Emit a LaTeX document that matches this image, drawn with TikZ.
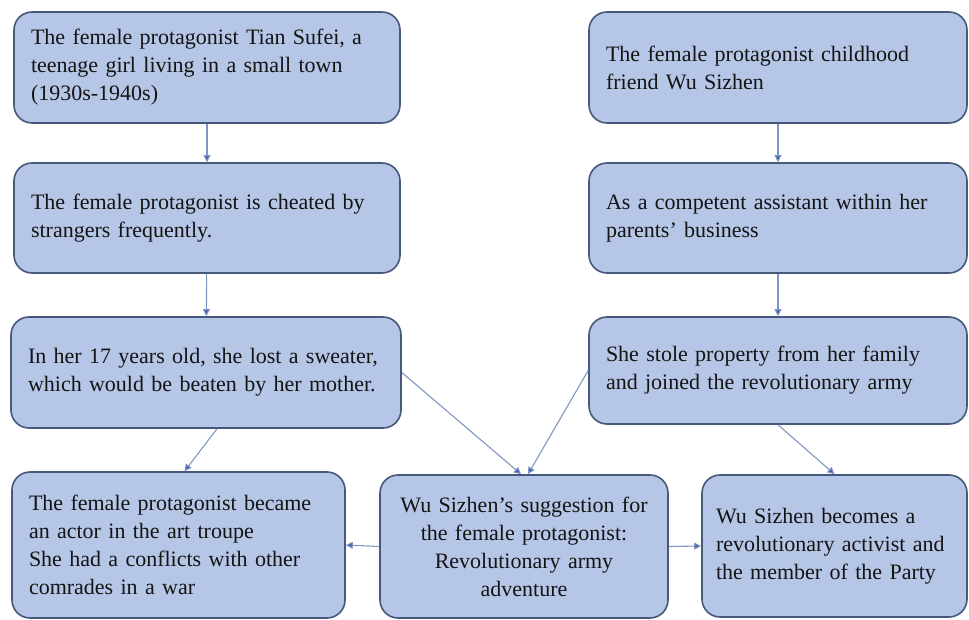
\documentclass[tikz,border=0pt]{standalone}
\usepackage{fontspec}
\setmainfont{Liberation Serif}
\usetikzlibrary{arrows.meta,positioning,calc}
\definecolor{boxfill}{RGB}{182,198,230}
\definecolor{boxline}{RGB}{70,88,124}
\definecolor{linkcol}{RGB}{128,150,194}
\definecolor{tipcol}{RGB}{60,94,176}
\tikzset{
  storybox/.style={draw=boxline, fill=boxfill, line width=1.6pt, rounded corners=18pt,
    align=left, inner xsep=17pt, inner ysep=4pt, text=black!92,
    font=\fontsize{22}{28}\selectfont},
  link/.style={-{Triangle[length=7pt,width=7pt,fill=tipcol]}, line width=1.1pt, draw=linkcol}
}

\begin{document}
\begin{tikzpicture}[x=1pt, y=-1pt]
  \useasboundingbox (0,0) rectangle (969,620);

  \node[storybox, text width=352pt, minimum height=111pt] (tian) at (207,67.5)
    {The female protagonist Tian Sufei, a\\teenage girl living in a small town\\(1930s-1940s)};
  \node[storybox, text width=352pt, minimum height=110pt] (cheat) at (207,218)
    {The female protagonist is cheated by\\strangers frequently.};
  \node[storybox, text width=356pt, minimum height=111pt] (sweater) at (206,372.5)
    {In her 17 years old, she lost a sweater,\\which would be beaten by her mother.};

  \node[storybox, text width=344pt, minimum height=111pt] (friend) at (778,67.5)
    {The female protagonist childhood\\friend Wu Sizhen};
  \node[storybox, text width=344pt, minimum height=110pt] (assist) at (778,218)
    {As a competent assistant within her\\parents’ business};
  \node[storybox, text width=344pt, minimum height=107pt] (stole) at (778,370.5)
    {She stole property from her family\\and joined the revolutionary army};

  \node[storybox, text width=299pt, minimum height=146pt] (troupe) at (178.5,545)
    {The female protagonist became\\an actor in the art troupe\\She had a conflicts with other\\comrades in a war};
  \node[storybox, align=center, inner xsep=12pt, text width=264pt, minimum height=143pt] (advice) at (524,546.5)
    {Wu Sizhen’s suggestion for\\the female protagonist:\\Revolutionary army\\adventure};
  \node[storybox, inner xsep=14pt, text width=237pt, minimum height=142pt] (activist) at (834.5,546)
    {Wu Sizhen becomes a\\revolutionary activist and\\the member of the Party};

  \draw[link] (tian) -- (cheat);
  \draw[link] (cheat) -- (sweater);
  \draw[link] ([xshift=11pt]sweater.south) -- ([xshift=6pt]troupe.north);
  \draw[link] (sweater.east) -- ([xshift=-3pt]advice.north);
  \draw[link] (friend) -- (assist);
  \draw[link] (assist) -- (stole);
  \draw[link] (stole.west) -- ([xshift=4pt]advice.north);
  \draw[link] (stole.south) -- (activist.north);
  \draw[link] (advice.west) -- (troupe.east);
  \draw[link] (advice.east) -- (activist.west);
\end{tikzpicture}
\end{document}
